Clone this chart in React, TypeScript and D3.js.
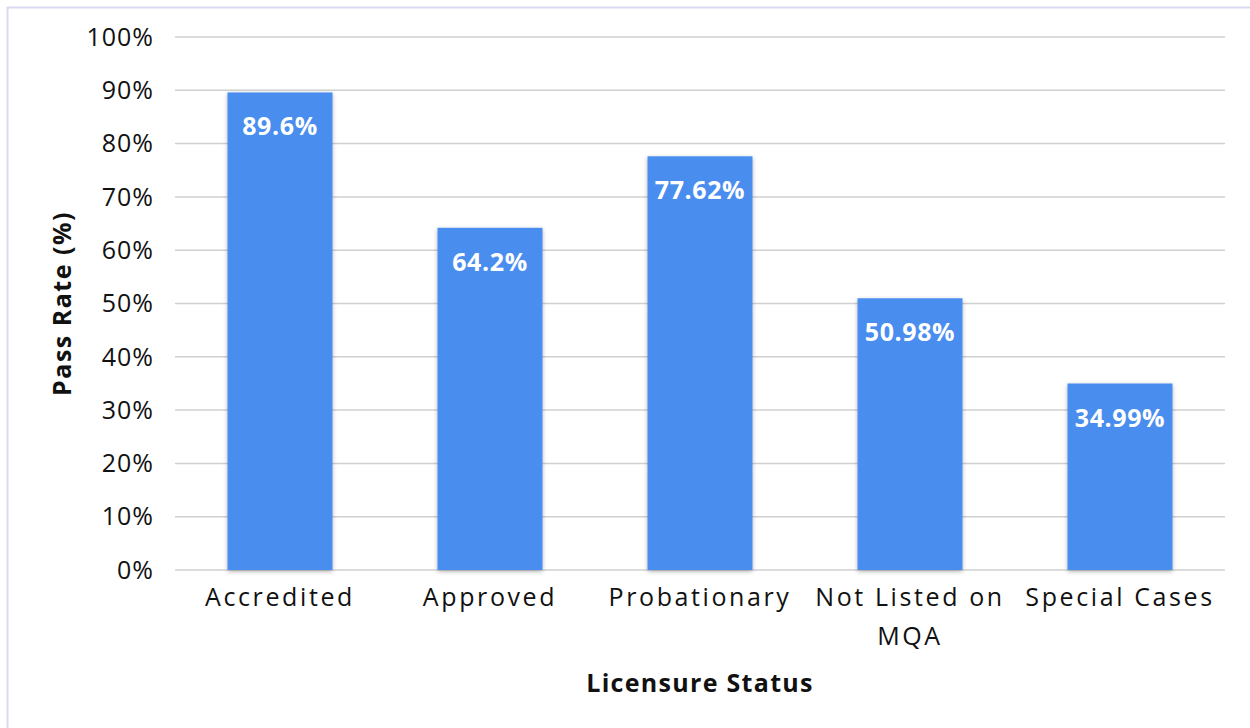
import React from "react";
import * as d3 from "d3";

const categories: string[][] = [
  ["Accredited"],
  ["Approved"],
  ["Probationary"],
  ["Not Listed on", "MQA"],
  ["Special Cases"],
];
const values: number[] = [89.6, 64.2, 77.62, 50.98, 34.99];
const valueLabels: string[] = ["89.6%", "64.2%", "77.62%", "50.98%", "34.99%"];
const yTicks: number[] = [0, 10, 20, 30, 40, 50, 60, 70, 80, 90, 100];

const W = 1250;
const H = 728;
const FONT = "'Open Sans', Lato, sans-serif";

export default function App() {
  const x = d3
    .scaleBand<number>()
    .domain(values.map((_, i) => i))
    .range([175, 1225])
    .paddingInner(0.5)
    .paddingOuter(0.25);
  const y = d3.scaleLinear().domain([0, 100]).range([570, 37]);

  return (
    <svg
      width={W}
      height={H}
      style={{ position: "absolute", left: 0, top: 0, background: "#fff" }}
      fontFamily={FONT}
    >
      <defs>
        <filter id="sh" x="-20%" y="-5%" width="140%" height="112%">
          <feDropShadow dx="0" dy="1.5" stdDeviation="2" floodColor="#000" floodOpacity="0.3" />
        </filter>
      </defs>
      <rect x={0} y={0} width={W} height={H} fill="#fff" />
      <line x1={7} y1={7.5} x2={W} y2={7.5} stroke="#d9daf1" strokeWidth={2} />
      <line x1={7.5} y1={7} x2={7.5} y2={H} stroke="#d9daf1" strokeWidth={2} />

      {yTicks.map((t) => (
        <g key={t}>
          <line x1={175} x2={1225} y1={y(t)} y2={y(t)} stroke="#d0d0d0" strokeWidth={1.5} />
          <text
            x={154}
            y={y(t)}
            dy="0.35em"
            textAnchor="end"
            fontSize={25}
            fill="#111"
            letterSpacing={1}
          >
            {t}%
          </text>
        </g>
      ))}

      {values.map((v, i) => (
        <g key={i}>
          <rect
            x={x(i)}
            y={y(v)}
            width={x.bandwidth()}
            height={y(0) - y(v)}
            fill="#4a8def"
            filter="url(#sh)"
          />
          <text
            x={(x(i) as number) + x.bandwidth() / 2}
            y={y(v) + 43}
            textAnchor="middle"
            fontSize={25}
            fontWeight={700}
            fill="#fff"
            letterSpacing={0.6}
          >
            {valueLabels[i]}
          </text>
          <text
            x={(x(i) as number) + x.bandwidth() / 2}
            y={606}
            textAnchor="middle"
            fontSize={25}
            fill="#111"
            letterSpacing={2.6}
          >
            {categories[i].map((line, j) => (
              <tspan key={j} x={(x(i) as number) + x.bandwidth() / 2} dy={j === 0 ? 0 : 39}>
                {line}
              </tspan>
            ))}
          </text>
        </g>
      ))}

      <text
        transform={`translate(71, ${(y(0) + y(100)) / 2}) rotate(-90)`}
        textAnchor="middle"
        fontSize={25}
        fontWeight={700}
        fill="#111"
        letterSpacing={1.5}
      >
        Pass Rate (%)
      </text>
      <text
        x={700}
        y={692}
        textAnchor="middle"
        fontSize={25}
        fontWeight={700}
        fill="#111"
        letterSpacing={1.3}
      >
        Licensure Status
      </text>
    </svg>
  );
}
